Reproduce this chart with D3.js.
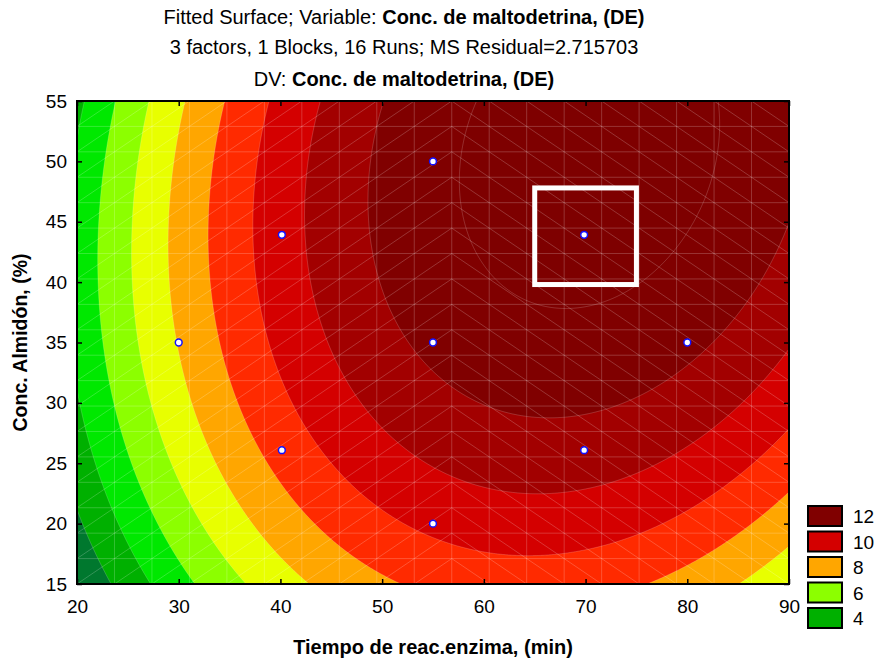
<!DOCTYPE html>
<html><head><meta charset="utf-8">
<script src="https://cdn.jsdelivr.net/npm/d3@7"></script>
<style>
body{margin:0;background:#fff}
text{font-family:"Liberation Sans",Arial,Helvetica,sans-serif;fill:#000}
</style>
</head><body>
<svg id="chart" width="879" height="663"></svg>
<script>
// ---------- data ----------
const titleLine1 = ["Fitted Surface; Variable: ", "Conc. de maltodetrina, (DE)"];
const titleLine2 = "3 factors, 1 Blocks, 16 Runs; MS Residual=2.715703";
const titleLine3 = ["DV: ", "Conc. de maltodetrina, (DE)"];
const xLabel = "Tiempo de reac.enzima, (min)";
const yLabel = "Conc. Almidón, (%)";
const xDomain = [20, 90];
const yDomain = [15, 55];
const xTicks = [20, 30, 40, 50, 60, 70, 80, 90];
const yTicks = [15, 20, 25, 30, 35, 40, 45, 50, 55];
// design (experimental) points
const designX = [30, 40.14, 40.14, 55, 55, 55, 69.86, 69.86, 80];
const designY = [35, 43.92, 26.08, 50, 35, 20, 43.92, 26.08, 35];
// fitted quadratic surface (centered at surfaceCenter):
// z = b0 + b1*u + b2*w + b11*u^2 + b22*w^2 + b12*u*w ; u = x-55, w = y-35
const surfaceCenter = [55, 35];
const surfaceCoef = [12.22, 0.0836, 0.0845, -0.00333, -0.003275, 0.0012];
// contour levels and band colours
const baseColor = "#00782e";
const levels = [4, 5, 6, 7, 8, 9, 10, 11, 12, 13];
const levelColors = ["#00b000", "#00e800", "#8cff00", "#e8ff00", "#ffa600", "#ff2a00", "#d40000", "#a20000", "#800000", "#7e0000"];
const legendLabels = ["12", "10", "8", "6", "4"];
const legendColors = ["#800000", "#d40000", "#ffa600", "#8cff00", "#00b000"];
// highlighted optimum region [xmin, xmax, ymin, ymax]
const optimumBox = [65, 75, 39.8, 47.8];
const meshDivisions = 19;

// ---------- layout ----------
const L = 77, R = 789, T = 101, B = 584;
const svg = d3.select("#chart");
const x = d3.scaleLinear().domain(xDomain).range([L, R]);
const y = d3.scaleLinear().domain(yDomain).range([B, T]);

function surf(xv, yv) {
  const u = xv - surfaceCenter[0], w = yv - surfaceCenter[1];
  const c = surfaceCoef;
  return c[0] + c[1]*u + c[2]*w + c[3]*u*u + c[4]*w*w + c[5]*u*w;
}

svg.append("defs").append("clipPath").attr("id", "plotclip")
  .append("rect").attr("x", L).attr("y", T).attr("width", R - L).attr("height", B - T);

const plot = svg.append("g").attr("clip-path", "url(#plotclip)");
plot.append("rect").attr("x", L).attr("y", T).attr("width", R - L).attr("height", B - T).attr("fill", baseColor);

const pad = 3;
const nx = (R - L) + 2*pad, ny = (B - T) + 2*pad;
const vals = new Float64Array(nx*ny);
for (let j = 0; j < ny; j++) {
  const yv = y.invert(T - pad + j + 0.5);
  for (let i = 0; i < nx; i++) {
    vals[j*nx + i] = surf(x.invert(L - pad + i + 0.5), yv);
  }
}
const contours = d3.contours().size([nx, ny]).thresholds(levels)(vals);
const path = d3.geoPath(d3.geoIdentity().translate([L - pad, T - pad]));
plot.selectAll("path.band").data(contours).join("path")
  .attr("class", "band")
  .attr("d", path)
  .attr("fill", (d, i) => levelColors[i])
  .attr("stroke", "rgba(255,255,255,0.18)")
  .attr("stroke-width", 1);

// mesh overlay
const mesh = plot.append("g").attr("stroke", "rgba(255,255,255,0.2)").attr("stroke-width", 1).attr("fill", "none");
const gx = d3.range(meshDivisions + 1).map(k => xDomain[0] + k*(xDomain[1]-xDomain[0])/meshDivisions);
const gy = d3.range(meshDivisions + 1).map(k => yDomain[0] + k*(yDomain[1]-yDomain[0])/meshDivisions);
gx.forEach(v => mesh.append("line").attr("x1", x(v)).attr("x2", x(v)).attr("y1", T).attr("y2", B));
gy.forEach(v => mesh.append("line").attr("y1", y(v)).attr("y2", y(v)).attr("x1", L).attr("x2", R));
for (let i = 0; i < meshDivisions; i++) {
  for (let j = 0; j < meshDivisions; j++) {
    const xa = x(gx[i]), xb = x(gx[i+1]), ya = y(gy[j]), yb = y(gy[j+1]);
    if (i < 10) mesh.append("line").attr("x1", xa).attr("y1", ya).attr("x2", xb).attr("y2", yb);
    else mesh.append("line").attr("x1", xa).attr("y1", yb).attr("x2", xb).attr("y2", ya);
  }
}

// optimum box
plot.append("rect")
  .attr("x", x(optimumBox[0])).attr("y", y(optimumBox[3]))
  .attr("width", x(optimumBox[1]) - x(optimumBox[0]))
  .attr("height", y(optimumBox[2]) - y(optimumBox[3]))
  .attr("fill", "none").attr("stroke", "#fff").attr("stroke-width", 5);

// design points
plot.selectAll("circle.pt").data(designX.map((v, i) => [v, designY[i]])).join("circle")
  .attr("class", "pt")
  .attr("cx", d => x(d[0])).attr("cy", d => y(d[1])).attr("r", 3.4)
  .attr("fill", "#fff").attr("stroke", "#1010ff").attr("stroke-width", 1.5);

// axes
const fs = 19;
const ax = svg.append("g").attr("transform", `translate(0,${B})`)
  .call(d3.axisBottom(x).tickValues(xTicks).tickSize(-5).tickPadding(16).tickFormat(d3.format("d")));
const ay = svg.append("g").attr("transform", `translate(${L},0)`)
  .call(d3.axisLeft(y).tickValues(yTicks).tickSize(-5).tickPadding(10).tickFormat(d3.format("d")));
const at = svg.append("g").attr("transform", `translate(0,${T})`)
  .call(d3.axisTop(x).tickValues(xTicks).tickSize(-5).tickFormat(""));
const ar = svg.append("g").attr("transform", `translate(${R},0)`)
  .call(d3.axisRight(y).tickValues(yTicks).tickSize(-5).tickFormat(""));
[ax, ay, at, ar].forEach(g => {
  g.select(".domain").remove();
  g.selectAll(".tick line").attr("stroke", "#000").attr("stroke-width", 1.5);
  g.selectAll("text").attr("font-size", fs).attr("font-family", '"Liberation Sans",Arial,sans-serif').attr("fill", "#000");
});
svg.append("rect").attr("x", L).attr("y", T).attr("width", R - L).attr("height", B - T)
  .attr("fill", "none").attr("stroke", "#000").attr("stroke-width", 2);

// titles
const cx = 404;
function mixed(yy, parts) {
  const t = svg.append("text").attr("x", cx).attr("y", yy).attr("text-anchor", "middle").attr("font-size", 20);
  t.append("tspan").text(parts[0]);
  t.append("tspan").attr("font-weight", "bold").text(parts[1]);
}
mixed(24, titleLine1);
svg.append("text").attr("x", cx).attr("y", 54).attr("text-anchor", "middle").attr("font-size", 20).text(titleLine2);
mixed(86, titleLine3);

svg.append("text").attr("x", (L + R)/2).attr("y", 654).attr("text-anchor", "middle")
  .attr("font-size", 20).attr("font-weight", "bold").text(xLabel);
svg.append("text").attr("transform", `translate(27,${(T + B)/2}) rotate(-90)`).attr("text-anchor", "middle")
  .attr("font-size", 19.5).attr("font-weight", "bold").text(yLabel);

// legend
const lg = svg.append("g");
legendLabels.forEach((lab, k) => {
  const yy = 506 + k*25.5;
  lg.append("rect").attr("x", 808).attr("y", yy).attr("width", 34).attr("height", 20)
    .attr("fill", legendColors[k]).attr("stroke", "#000").attr("stroke-width", 2);
  lg.append("text").attr("x", 853).attr("y", yy + 17).attr("font-size", fs).text(lab);
});
</script>
</body></html>
